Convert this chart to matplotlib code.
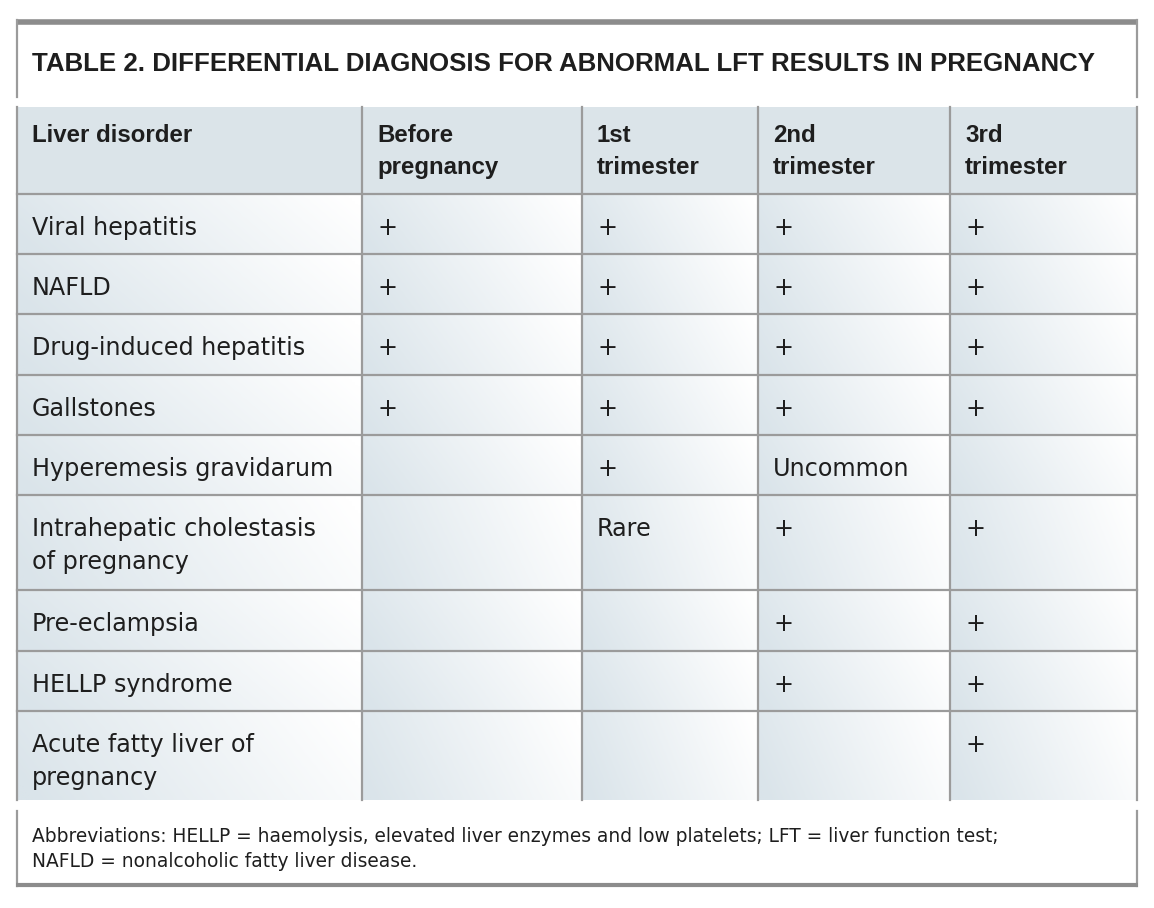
import numpy as np
import matplotlib.pyplot as plt
from matplotlib.colors import LinearSegmentedColormap

# Table content
title = "TABLE 2. DIFFERENTIAL DIAGNOSIS FOR ABNORMAL LFT RESULTS IN PREGNANCY"
headers = ["Liver disorder", "Before\npregnancy", "1st\ntrimester", "2nd\ntrimester", "3rd\ntrimester"]
disorders = [
    "Viral hepatitis",
    "NAFLD",
    "Drug-induced hepatitis",
    "Gallstones",
    "Hyperemesis gravidarum",
    "Intrahepatic cholestasis\nof pregnancy",
    "Pre-eclampsia",
    "HELLP syndrome",
    "Acute fatty liver of\npregnancy",
]
before = ["+", "+", "+", "+", "", "", "", "", ""]
first_tri = ["+", "+", "+", "+", "+", "Rare", "", "", ""]
second_tri = ["+", "+", "+", "+", "Uncommon", "+", "+", "+", ""]
third_tri = ["+", "+", "+", "+", "", "+", "+", "+", "+"]
footnote = ("Abbreviations: HELLP = haemolysis, elevated liver enzymes and low platelets; LFT = liver function test;\n"
            "NAFLD = nonalcoholic fatty liver disease.")

# Layout (pixels)
W, H = 1154, 908
col_edges = [17, 362, 582, 758, 950, 1137]
row_edges = [107, 194, 254, 314, 375, 435, 495, 590, 651, 711, 800]

fig = plt.figure(figsize=(W / 100, H / 100), dpi=100)
ax = fig.add_axes([0, 0, 1, 1])
ax.set_xlim(0, W)
ax.set_ylim(H, 0)
ax.axis("off")

grid_col = "#9b9b9b"
text_col = "#1e1e1e"
body_font = "DejaVu Sans"
bold_font = "Liberation Sans"

# cell gradient: bluish grey on the left, white towards the top right
cmap = LinearSegmentedColormap.from_list("cell", ["#dae4ea", "#ffffff"])
gx = np.linspace(0, 1, 120)
gy = np.linspace(0, 1, 40)
GX, GY = np.meshgrid(gx, gy)
grad = np.clip(0.9 * GX + 0.18 * (1 - GY) - 0.04, 0, 1)

# header background
ax.fill_between([col_edges[0], col_edges[-1]], row_edges[0], row_edges[1], color="#dbe4e9", lw=0, zorder=1)

# body cells
for r in range(len(disorders)):
    for c in range(len(headers)):
        ax.imshow(grad, cmap=cmap, vmin=0, vmax=1, aspect="auto", interpolation="bilinear",
                  extent=[col_edges[c], col_edges[c + 1], row_edges[r + 2], row_edges[r + 1]], zorder=1)

# grid lines
for x in col_edges:
    ax.plot([x, x], [row_edges[0], row_edges[-1]], color=grid_col, lw=1.6, zorder=3)
for y in row_edges[1:-1]:
    ax.plot([col_edges[0], col_edges[-1]], [y, y], color=grid_col, lw=1.6, zorder=3)

# title box (top, left, right borders)
ax.plot([col_edges[0], col_edges[-1]], [22, 22], color="#8c8c8c", lw=4, zorder=3, solid_capstyle="butt")
ax.plot([col_edges[0], col_edges[0]], [20, 97], color=grid_col, lw=1.6, zorder=3)
ax.plot([col_edges[-1], col_edges[-1]], [20, 97], color=grid_col, lw=1.6, zorder=3)
ax.text(32, 64, title, fontsize=18.65, fontweight="bold", family=bold_font, color=text_col,
        va="center", ha="left", zorder=4)

# footnote box (left, right, bottom borders)
ax.plot([col_edges[0], col_edges[0]], [811, 886], color=grid_col, lw=1.6, zorder=3)
ax.plot([col_edges[-1], col_edges[-1]], [811, 886], color=grid_col, lw=1.6, zorder=3)
ax.plot([col_edges[0] - 1, col_edges[-1] + 1], [885, 885], color="#8c8c8c", lw=3, zorder=3, solid_capstyle="butt")
ax.text(32, 849, footnote, fontsize=13.4, family=body_font, color=text_col,
        va="center", ha="left", linespacing=1.45, zorder=4)

# header text
for c, h in enumerate(headers):
    ax.text(col_edges[c] + 15, row_edges[0] + 17, h, fontsize=17.3, fontweight="bold", family=bold_font,
            color=text_col, va="top", ha="left", linespacing=1.48, zorder=4)

# body text
columns = [disorders, before, first_tri, second_tri, third_tri]
for c, col in enumerate(columns):
    for r, val in enumerate(col):
        if val:
            ax.text(col_edges[c] + 15, row_edges[r + 1] + 22, val, fontsize=17.2, family=body_font,
                    color=text_col, va="top", ha="left", linespacing=1.45, zorder=4)

fig.savefig("out.png", dpi=100)
